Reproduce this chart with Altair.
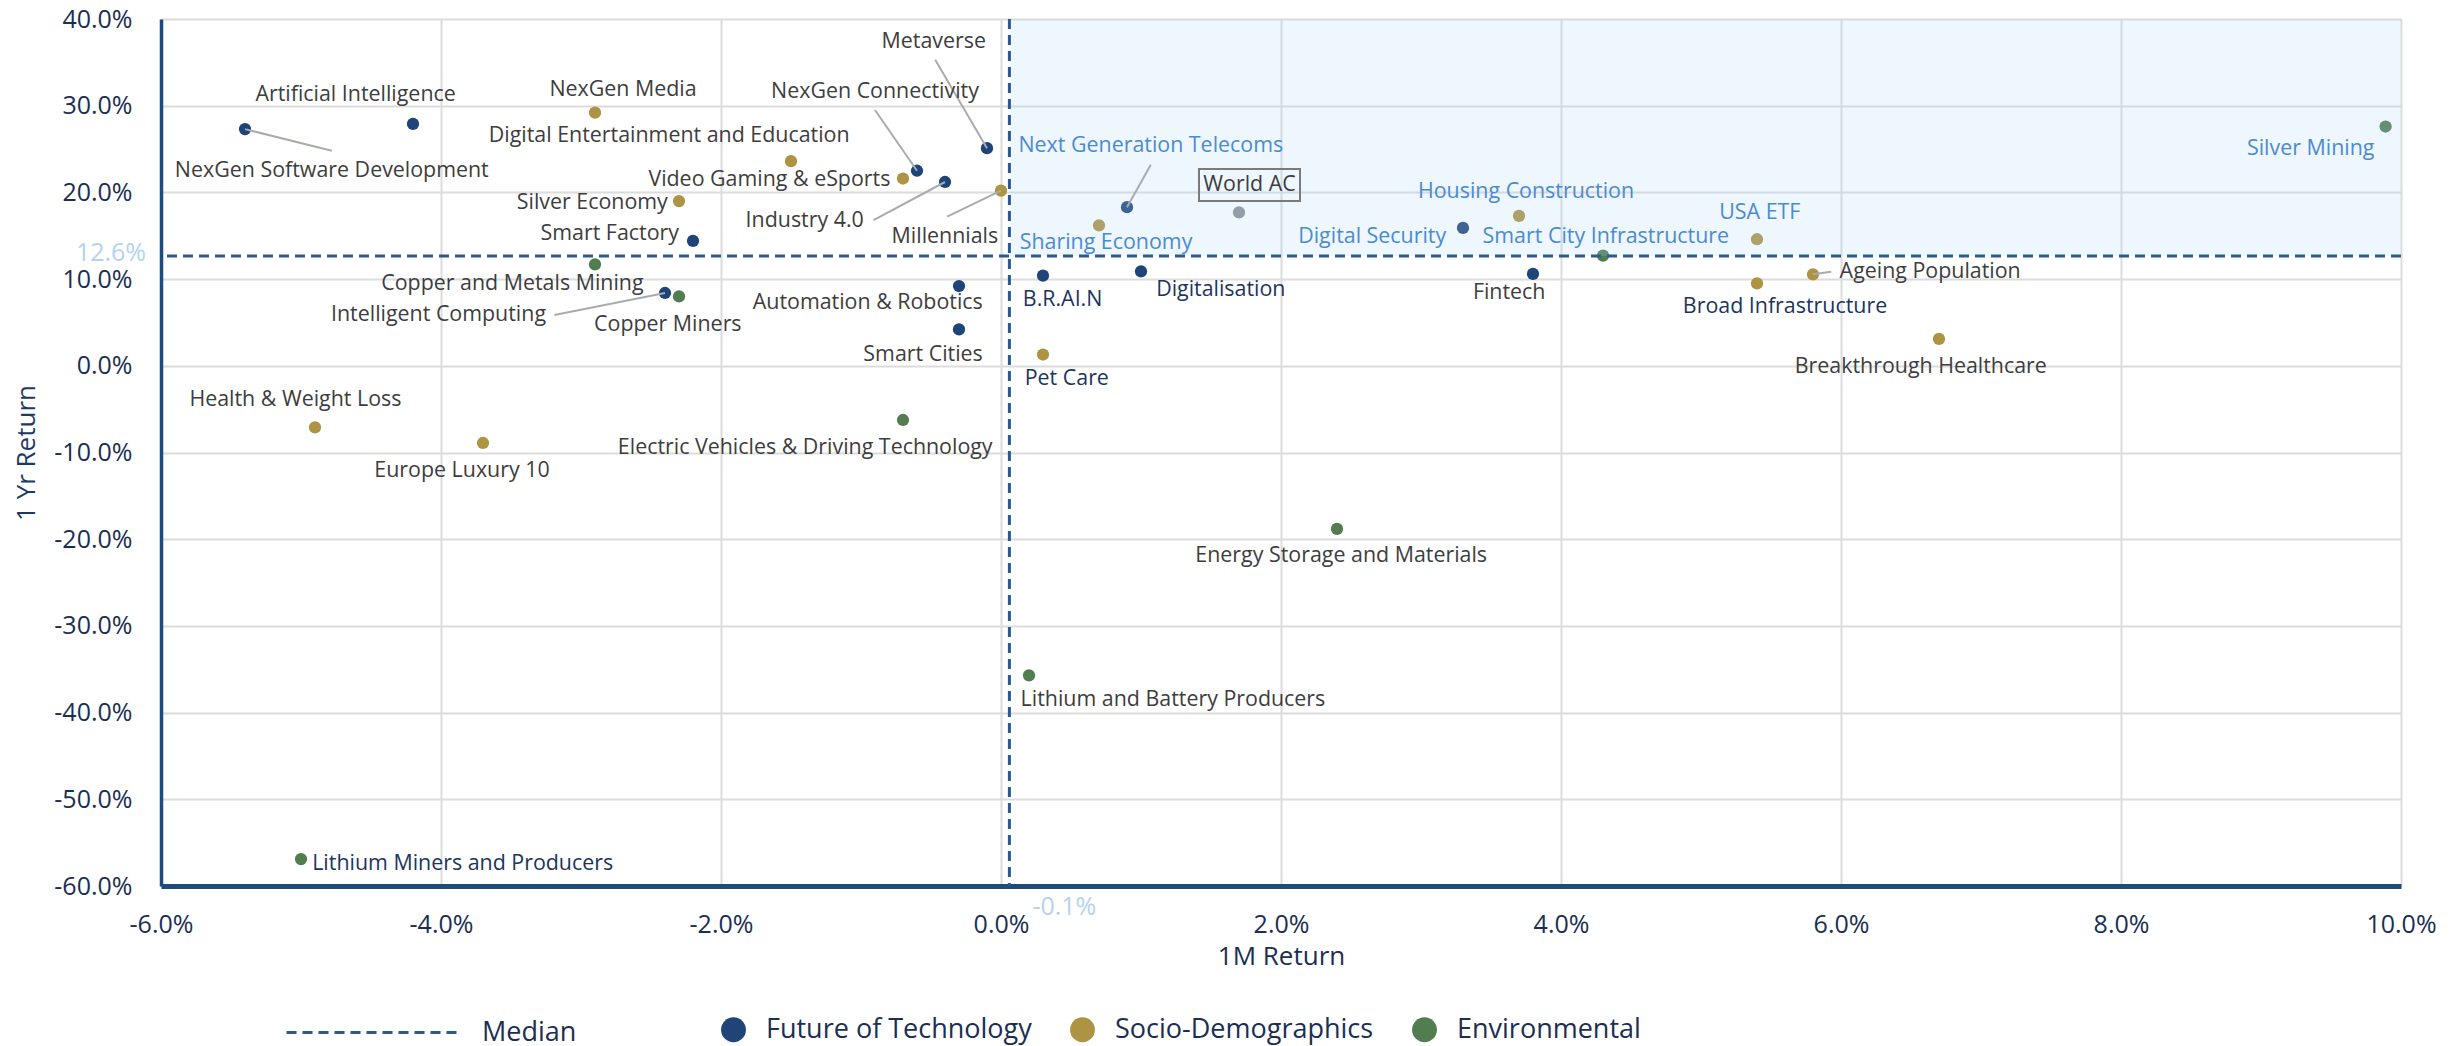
import altair as alt
import pandas as pd

# ---------------- data ----------------
themes = [
    "NexGen Software Development", "Artificial Intelligence", "NexGen Connectivity", "Metaverse",
    "Industry 4.0", "Smart Factory", "Intelligent Computing", "Automation & Robotics", "Smart Cities",
    "Next Generation Telecoms", "Digital Security", "B.R.AI.N", "Digitalisation", "Fintech",
    "NexGen Media", "Digital Entertainment and Education", "Video Gaming & eSports", "Millennials",
    "Silver Economy", "Health & Weight Loss", "Europe Luxury 10", "Sharing Economy",
    "Housing Construction", "Pet Care", "USA ETF", "Ageing Population", "Broad Infrastructure",
    "Breakthrough Healthcare",
    "Copper and Metals Mining", "Copper Miners", "Electric Vehicles & Driving Technology",
    "Energy Storage and Materials", "Lithium and Battery Producers", "Lithium Miners and Producers",
    "Silver Mining", "Smart City Infrastructure",
]
groups = (["Future of Technology"] * 14 + ["Socio-Demographics"] * 14 + ["Environmental"] * 8)
one_month = [
    -5.40, -4.20, -0.60, -0.10, -0.40, -2.20, -2.40, -0.30, -0.30, 0.90, 3.30, 0.30, 1.00, 3.80,
    -2.90, -1.50, -0.70, 0.00, -2.30, -4.90, -3.70, 0.70, 3.70, 0.30, 5.40, 5.80, 5.40, 6.70,
    -2.90, -2.30, -0.70, 2.40, 0.20, -5.00, 9.89, 4.30,
]
one_year = [
    27.3, 27.9, 22.5, 25.1, 21.2, 14.4, 8.4, 9.2, 4.2, 18.3, 15.9, 10.4, 10.9, 10.6,
    29.2, 23.6, 21.6, 20.2, 19.0, -7.1, -8.9, 16.2, 17.3, 1.3, 14.6, 10.55, 9.5, 3.1,
    11.7, 8.0, -6.25, -18.8, -35.7, -56.9, 27.6, 12.7,
]

# label anchor positions (data units) and text alignment / tone
label_x = [
    -4.78, -4.61, -0.90, -0.48, -0.98, -2.30, -3.25, -0.13, -0.13, 1.07, 3.18, 0.44, 1.57, 3.63,
    -2.70, -2.37, -0.79, -0.02, -2.38, -5.04, -3.85, 0.75, 3.75, 0.47, 5.42, 5.99, 5.60, 6.57,
    -3.49, -2.38, -0.06, 2.43, 0.14, -4.92, 9.81, 4.32,
]
label_y = [
    22.5, 31.2, 31.6, 37.3, 16.7, 15.2, 5.9, 7.3, 1.3, 25.3, 14.9, 7.6, 8.7, 8.4,
    31.8, 26.5, 21.4, 14.9, 18.8, -3.9, -12.1, 14.2, 20.0, -1.5, 17.6, 10.8, 6.8, -0.1,
    9.4, 4.7, -9.45, -21.9, -38.55, -57.5, 25.0, 14.9,
]
label_anchor = [
    "center", "center", "center", "center", "right", "right", "right", "right", "right",
    "center", "right", "center", "center", "center",
    "center", "center", "right", "right", "right", "center", "center", "center",
    "center", "center", "center", "left", "center", "center",
    "center", "center", "right", "center", "left", "left", "right", "center",
]
label_tone = [
    "dark", "dark", "dark", "dark", "dark", "dark", "dark", "dark", "dark",
    "light", "light", "navy", "navy", "dark",
    "dark", "dark", "dark", "dark", "dark", "dark", "dark", "light",
    "light", "navy", "light", "dark", "navy", "dark",
    "dark", "dark", "dark", "dark", "dark", "navy", "light", "light",
]

# leader lines: label-side end point (data units); other end is the theme's dot
leader_names = ["NexGen Software Development", "NexGen Connectivity", "Metaverse", "Industry 4.0",
                "Millennials", "Intelligent Computing", "Next Generation Telecoms", "Ageing Population"]
leader_x = [-4.78, -0.90, -0.47, -0.91, -0.385, -3.19, 1.07, 5.93]
leader_y = [24.8, 29.5, 35.3, 16.8, 17.2, 5.86, 23.2, 10.85]

benchmark = "World AC"
bench_1m = 1.70
bench_1y = 17.7
bench_label_x = 1.775
bench_label_y = 20.85

median_name = "Median"
median_1m = 0.06
median_1y = 12.65
median_1m_text = "-0.1%"
median_1y_text = "12.6%"

x_domain = [-6, 10]
y_domain = [-60, 40]
x_ticks = [-6, -4, -2, 0, 2, 4, 6, 8, 10]
y_ticks = [-60, -50, -40, -30, -20, -10, 0, 10, 20, 30, 40]

group_order = ["Future of Technology", "Socio-Demographics", "Environmental"]

# ---------------- styles ----------------
FONT = "Open Sans"
NAVY = "#1b2f52"
AXIS_NAVY = "#1f4a7e"
DASH_NAVY = "#2a5a90"
GROUP_COLORS = ["#1f4478", "#ae9342", "#517d50"]
TONE_COLORS = {"dark": "#3d3d3d", "navy": "#1b3560", "light": "#4b8bd1"}
MEDIAN_TEXT = "#b3d3f0"
PCT = "(datum.value < 0 ? '-' : '') + format(abs(datum.value), '.1f') + '%'"

pts = pd.DataFrame({"theme": themes, "group": groups, "x": one_month, "y": one_year})
labels = pd.DataFrame({
    "theme": themes, "x": label_x, "y": label_y, "anchor": label_anchor,
    "tone": [TONE_COLORS[t] for t in label_tone],
})
labels = pd.concat([labels, pd.DataFrame({
    "theme": [benchmark], "x": [bench_label_x], "y": [bench_label_y],
    "anchor": ["center"], "tone": [TONE_COLORS["dark"]]})], ignore_index=True)

pos = dict(zip(themes, zip(one_month, one_year)))
leaders = pd.DataFrame({
    "theme": leader_names, "x": leader_x, "y": leader_y,
    "x2": [pos[n][0] for n in leader_names], "y2": [pos[n][1] for n in leader_names],
})
bench = pd.DataFrame({"theme": [benchmark], "x": [bench_1m], "y": [bench_1y]})
bench_lbl = pd.DataFrame({"theme": [benchmark], "x": [bench_label_x], "y": [bench_label_y]})
median = pd.DataFrame({"name": [median_name], "x": [median_1m], "y": [median_1y],
                       "x_text": [median_1m_text], "y_text": [median_1y_text],
                       "xmax": [x_domain[1]], "ymax": [y_domain[1]],
                       "xmin": [x_domain[0]], "ymin": [y_domain[0]]})

xs = alt.Scale(domain=x_domain, nice=False, zero=False)
ys = alt.Scale(domain=y_domain, nice=False, zero=False)

x_axis = alt.Axis(values=x_ticks, labelExpr=PCT, title="1M Return",
                  grid=True, gridColor="#dcdcdc", gridWidth=2, ticks=False,
                  domainColor=AXIS_NAVY, domainWidth=5, labelFlush=False, labelOverlap=False,
                  labelFont=FONT, labelFontSize=25, labelColor=NAVY, labelPadding=26,
                  titleFont=FONT, titleFontSize=26, titleFontWeight="normal", titleColor=NAVY,
                  titlePadding=6)
y_axis = alt.Axis(values=y_ticks, labelExpr=PCT, title="1 Yr Return",
                  grid=True, gridColor="#dcdcdc", gridWidth=2, ticks=False,
                  domainColor=AXIS_NAVY, domainWidth=3.5, labelFlush=False, labelOverlap=False,
                  labelFont=FONT, labelFontSize=25, labelColor=NAVY, labelPadding=29,
                  titleFont=FONT, titleFontSize=26, titleFontWeight="normal", titleColor="#1b3a66",
                  titlePadding=14)

X = alt.X("x:Q", scale=xs, axis=x_axis)
Y = alt.Y("y:Q", scale=ys, axis=y_axis)

points = alt.Chart(pts).mark_circle(size=150, opacity=1).encode(
    x=X, y=Y,
    color=alt.Color("group:N", scale=alt.Scale(domain=group_order, range=GROUP_COLORS),
                    legend=alt.Legend(orient="none", legendX=559, legendY=997, direction="horizontal",
                                      columns=3, title=None, symbolType="circle", symbolSize=620,
                                      symbolStrokeWidth=0, symbolOpacity=1, labelLimit=600,
                                      labelFont=FONT, labelFontSize=27, labelColor=NAVY,
                                      labelOffset=19, columnPadding=37)),
)

bench_pt = alt.Chart(bench).mark_circle(size=150, opacity=1, color="#8c9096").encode(x=X, y=Y)

shade = alt.Chart(median).mark_rect(color="#aed4fa", opacity=0.21).encode(
    x=X, x2="xmax:Q", y=Y, y2="ymax:Q")

hrule = alt.Chart(median).mark_rule(color=DASH_NAVY, strokeWidth=3).encode(
    y=Y,
    strokeDash=alt.StrokeDash("name:N", scale=alt.Scale(domain=[median_name], range=[[10, 6]]),
                              legend=alt.Legend(orient="none", legendX=124, legendY=924, title=None,
                                                symbolType="stroke", symbolSize=176 * 176,
                                                symbolStrokeWidth=3, symbolStrokeColor=DASH_NAVY,
                                                labelFont=FONT, labelFontSize=27, labelColor=NAVY,
                                                labelOffset=18, labelLimit=600)))
vrule = alt.Chart(median).mark_rule(color=DASH_NAVY, strokeWidth=3, strokeDash=[10, 6]).encode(x=X)

med_y_text = alt.Chart(median).mark_text(align="right", baseline="middle", dx=-15, dy=-3,
                                         font=FONT, fontSize=25, color=MEDIAN_TEXT).encode(
    x=alt.X("xmin:Q", scale=xs), y=Y, text="y_text:N")
med_x_text = alt.Chart(median).mark_text(align="left", baseline="middle", dx=23, dy=21,
                                         font=FONT, fontSize=25, color=MEDIAN_TEXT).encode(
    x=X, y=alt.Y("ymin:Q", scale=ys), text="x_text:N")

leader_lines = alt.Chart(leaders).mark_rule(color="#a8acb0", strokeWidth=2).encode(
    x=X, y=Y, x2="x2:Q", y2="y2:Q")

text_layers = []
for a in ["left", "center", "right"]:
    text_layers.append(
        alt.Chart(labels).transform_filter(alt.datum.anchor == a).mark_text(
            align=a, baseline="middle", font=FONT, fontSize=21.4).encode(
            x=X, y=Y, text="theme:N", color=alt.Color("tone:N", scale=None)))

bench_box = alt.Chart(bench_lbl).mark_point(
    shape="M-1,-0.317L1,-0.317L1,0.317L-1,0.317Z", size=101 * 101, filled=False,
    stroke="#7a7a7a", strokeWidth=2, opacity=1).encode(x=X, y=Y)

chart = alt.layer(points, bench_pt, shade, hrule, vrule, leader_lines, *text_layers, bench_box,
                  med_y_text, med_x_text).properties(
    width=2240, height=867,
    autosize=alt.AutoSizeParams(type="none"),
    padding={"left": 153, "top": 11, "right": 54, "bottom": 162},
).configure_view(stroke=None).configure(background="white")

chart.save("out.html", embed_options={"renderer": "svg", "actions": False})
